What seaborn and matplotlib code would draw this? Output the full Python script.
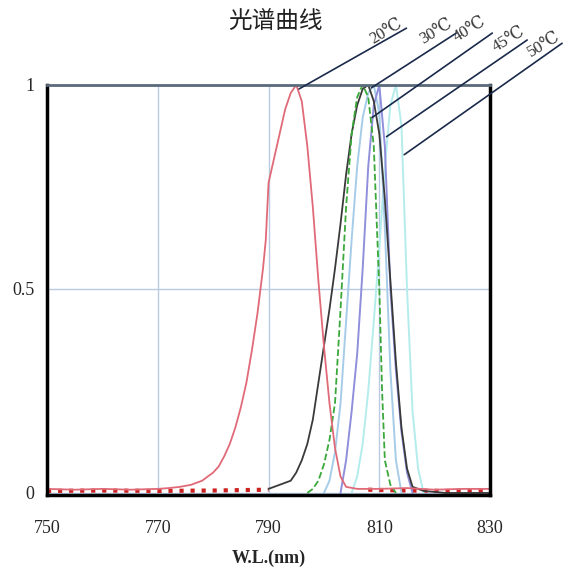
import matplotlib
matplotlib.use("Agg")
import matplotlib.pyplot as plt
import seaborn as sns

# spectrum data (wavelength in nm, relative intensity)
red_nm = [750, 755, 760, 765, 770, 772, 774, 776, 778, 780, 781, 782, 783, 784, 785, 786, 787, 788, 789,
          789.5, 790, 791, 792, 793, 794, 795, 796, 797, 798, 799, 800, 801, 802, 803, 804, 806, 810, 815,
          820, 825, 830]
red_v = [0.01, 0.008, 0.01, 0.008, 0.01, 0.012, 0.015, 0.02, 0.03, 0.05, 0.065, 0.09, 0.12, 0.16, 0.21,
         0.27, 0.35, 0.44, 0.55, 0.62, 0.76, 0.82, 0.88, 0.94, 0.98, 1.0, 0.96, 0.85, 0.7, 0.52, 0.36, 0.22,
         0.11, 0.04, 0.015, 0.01, 0.01, 0.012, 0.008, 0.01, 0.01]

black_nm = [790, 792, 794, 795, 796, 797, 798, 799, 800, 801, 802, 803, 804, 805, 806, 807, 808, 809, 810,
            811, 812, 813, 814, 815, 816, 818, 822, 830]
black_v = [0.01, 0.02, 0.03, 0.05, 0.08, 0.12, 0.18, 0.27, 0.36, 0.45, 0.55, 0.66, 0.78, 0.88, 0.95, 0.99,
           1.0, 0.96, 0.88, 0.72, 0.52, 0.32, 0.16, 0.06, 0.015, 0.005, 0.0, 0.0]

green_nm = [797, 798, 799, 800, 801, 802, 803, 804, 805, 806, 807, 808, 809, 810, 810.5, 811, 812, 813]
green_v = [0.0, 0.01, 0.03, 0.07, 0.13, 0.22, 0.45, 0.7, 0.88, 0.97, 1.0, 0.97, 0.85, 0.5, 0.25, 0.08,
           0.02, 0.0]

blue_nm = [800, 801, 802, 803, 804, 805, 806, 807, 808, 809, 810, 811, 812, 813, 814]
blue_v = [0.0, 0.03, 0.1, 0.22, 0.42, 0.62, 0.8, 0.92, 0.98, 1.0, 0.93, 0.65, 0.3, 0.08, 0.0]

purple_nm = [803, 804, 805, 806, 807, 808, 809, 810, 811, 812, 813, 814, 815, 816]
purple_v = [0.0, 0.08, 0.2, 0.34, 0.55, 0.8, 0.95, 1.0, 0.85, 0.5, 0.3, 0.15, 0.05, 0.0]

cyan_nm = [805, 806, 807, 808, 809, 810, 811, 812, 813, 814, 815, 816, 817, 818]
cyan_v = [0.0, 0.04, 0.12, 0.25, 0.42, 0.6, 0.8, 0.95, 1.0, 0.9, 0.5, 0.2, 0.06, 0.0]

# noisy red baseline
base1_nm = [750, 760, 770, 780, 790]
base1_v = [0.005, 0.006, 0.005, 0.006, 0.008]
base2_nm = [808, 815, 822, 830]
base2_v = [0.008, 0.006, 0.005, 0.006]

labels = ["20℃", "30℃", "40℃", "45℃", "50℃"]
label_start_nm = [795.5, 808.6, 808.7, 811.3, 814.5]
label_start_v = [0.99, 0.993, 0.92, 0.873, 0.829]
label_end_nm = [814.9, 823.9, 830.4, 836.7, 843.0]
label_end_v = [1.139, 1.127, 1.127, 1.11, 1.102]
label_txt_nm = [811.3, 820.3, 826.4, 833.4, 839.7]
label_txt_v = [1.13, 1.13, 1.135, 1.112, 1.098]

xticks = [750, 770, 790, 810, 830]
yticks = [0, 0.5, 1]
ytick_labels = ["0", "0.5", "1"]

sns.set_theme(style="white")
serif = ["Liberation Serif", "DejaVu Serif"]
plt.rcParams["font.family"] = serif

fig = plt.figure(figsize=(5.71, 5.72), dpi=100)
ax = fig.add_axes([0.0823, 0.1346, 0.776, 0.717])

sns.lineplot(x=base1_nm, y=base1_v, ax=ax, color="#cc2222", linewidth=3, linestyle=":")
sns.lineplot(x=base2_nm, y=base2_v, ax=ax, color="#cc2222", linewidth=3, linestyle=":")
sns.lineplot(x=cyan_nm, y=cyan_v, ax=ax, color="#b4ecec", linewidth=1.4)
sns.lineplot(x=blue_nm, y=blue_v, ax=ax, color="#a6cce8", linewidth=1.4)
sns.lineplot(x=purple_nm, y=purple_v, ax=ax, color="#8f8fdc", linewidth=1.4)
sns.lineplot(x=black_nm, y=black_v, ax=ax, color="#3a3a3a", linewidth=1.3)
sns.lineplot(x=green_nm, y=green_v, ax=ax, color="#3aa83a", linewidth=1.3, linestyle="--")
sns.lineplot(x=red_nm, y=red_v, ax=ax, color="#e06a78", linewidth=1.3)

ax.set_xlim(750, 830)
ax.set_ylim(-0.005, 1.0)
ax.set_xticks(xticks)
ax.set_yticks(yticks)
ax.set_yticklabels(ytick_labels)
ax.tick_params(labelsize=13, length=0)
ax.tick_params(axis="x", pad=18)
ax.tick_params(axis="y", pad=9)
ax.grid(True, color="#b8cbe2", linewidth=1)
for sp in ["left", "bottom", "right"]:
    ax.spines[sp].set_color("black")
    ax.spines[sp].set_linewidth(2.5)
ax.spines["top"].set_color("#5a6a7a")
ax.spines["top"].set_linewidth(2)

# annotation leaders and temperature labels
for i in range(len(labels)):
    ax.annotate("", xy=(label_start_nm[i], label_start_v[i]),
                xytext=(label_end_nm[i], label_end_v[i]),
                arrowprops=dict(arrowstyle="-", color="#1a2a4a", lw=1.2, shrinkA=0, shrinkB=0),
                annotation_clip=False)
    ax.text(label_txt_nm[i], label_txt_v[i], labels[i], rotation=31, ha="center", va="center",
            fontsize=12, color="#333333", clip_on=False)

ax.set_xlabel("W.L.(nm)", fontsize=13, fontweight="bold", labelpad=9)
ax.set_ylabel("")

fig.text(0.483, 0.962, "光谱曲线", ha="center", va="center", fontsize=17,
         family=["Noto Sans CJK SC", "DejaVu Sans"], color="#222222")

fig.savefig("out.png", dpi=100, facecolor="white")
